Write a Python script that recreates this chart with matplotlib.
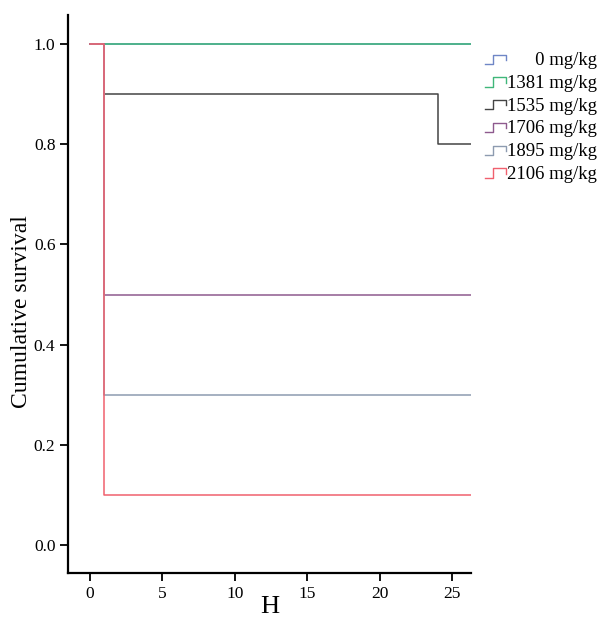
import matplotlib
matplotlib.use("Agg")
import matplotlib.pyplot as plt
from matplotlib.legend_handler import HandlerBase
from matplotlib.lines import Line2D

plt.rcParams['font.family'] = ['Liberation Serif', 'DejaVu Serif']

# survival data (time in H, cumulative survival)
labels = ["\u2007\u2007\u20070 mg/kg", "1381 mg/kg", "1535 mg/kg", "1706 mg/kg", "1895 mg/kg", "2106 mg/kg"]
colors = ["#6f86c6", "#3fb77a", "#444444", "#8e5a8e", "#8d9bb0", "#f0606e"]
times = [
    [0, 26.3],
    [0, 26.3],
    [0, 1, 24, 26.3],
    [0, 1, 26.3],
    [0, 1, 26.3],
    [0, 1, 26.3],
]
survival = [
    [1.0, 1.0],
    [1.0, 1.0],
    [1.0, 0.9, 0.8, 0.8],
    [1.0, 0.5, 0.5],
    [1.0, 0.3, 0.3],
    [1.0, 0.1, 0.1],
]
xticks = [0, 5, 10, 15, 20, 25]
yticks = [0.0, 0.2, 0.4, 0.6, 0.8, 1.0]


class StepHandler(HandlerBase):
    def create_artists(self, legend, orig_handle, xdescent, ydescent,
                       width, height, fontsize, trans):
        w = width
        h = height
        xs = [0, 0.4 * w, 0.4 * w, w, w]
        ys = [0.1 * h, 0.1 * h, 0.8 * h, 0.8 * h, 0.4 * h]
        ln = Line2D([x - xdescent for x in xs], [y - ydescent for y in ys],
                    color=orig_handle.get_color(), lw=1.0, transform=trans)
        return [ln]


fig = plt.figure(figsize=(5.98, 6.28), dpi=100)
ax = fig.add_axes([68 / 598, 1 - 573 / 628, (471 - 68) / 598, (573 - 15) / 628])

handles = []
for t, s, c, lab in zip(times, survival, colors, labels):
    h, = ax.step(t, s, where='post', color=c, lw=1.1, label=lab)
    handles.append(h)

ax.set_xlim(-1.5, 26.3)
ax.set_ylim(-0.056, 1.058)
ax.set_xticks(xticks)
ax.set_yticks(yticks)
ax.set_xticklabels([str(x) for x in xticks])
ax.set_yticklabels(["%.1f" % y for y in yticks])
ax.spines['top'].set_visible(False)
ax.spines['right'].set_visible(False)
ax.spines['left'].set_linewidth(1.6)
ax.spines['bottom'].set_linewidth(1.6)
ax.tick_params(direction='out', length=6, width=1.3, labelsize=12.5, pad=3)
ax.set_xlabel("H", fontsize=19, labelpad=-4)
ax.set_ylabel("Cumulative survival", fontsize=17)
ax.yaxis.set_label_coords(-0.09, 0.468)

leg = fig.legend(handles=handles, labels=labels,
                 handler_map={Line2D: StepHandler()},
                 loc='upper right', bbox_to_anchor=(0.999, 1 - 52 / 628),
                 frameon=False, fontsize=13.5, handlelength=1.1,
                 handletextpad=0.1, labelspacing=0.3, borderaxespad=0,
                 borderpad=0)

fig.savefig("out.png", dpi=100)
